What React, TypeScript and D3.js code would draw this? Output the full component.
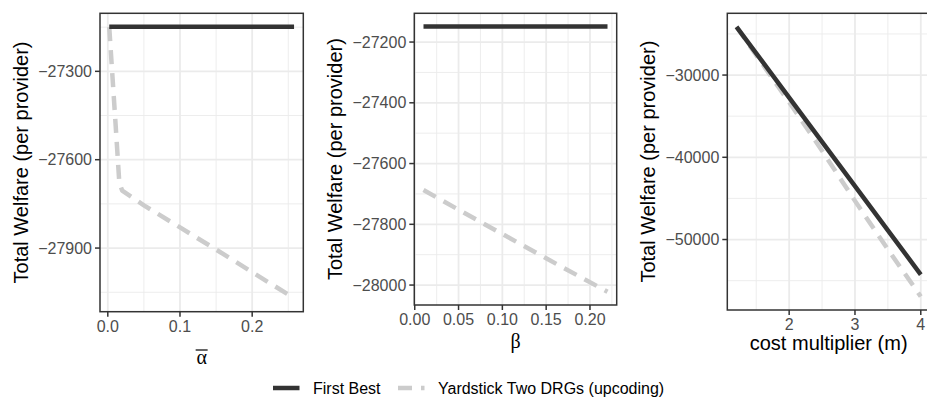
import * as d3 from 'd3'

// panel 1: alpha bar
const alphaBar = [0.002, 0.006, 0.01, 0.016, 0.02, 0.05, 0.1, 0.15, 0.2, 0.258]
const firstBestAlpha = [-27149, -27149, -27149, -27149, -27149, -27149, -27149, -27149, -27149, -27149]
const yardstickAlpha = [-27150, -27300, -27450, -27680, -27705, -27755, -27830, -27905, -27982, -28070]

// panel 2: beta
const beta = [0.01, 0.05, 0.1, 0.15, 0.22]
const firstBestBeta = [-27149, -27149, -27149, -27149, -27149]
const yardstickBeta = [-27687, -27752, -27832, -27912, -28022]

// panel 3: cost multiplier
const costMult = [1.2, 1.5, 2, 2.5, 3, 3.5, 4]
const firstBestCost = [-24130, -27360, -32740, -38120, -43500, -48880, -54260]
const yardstickCost = [-24130, -27600, -33300, -39200, -45300, -51200, -56930]

const alphaTicks = [0, 0.1, 0.2]
const alphaMinor = [0.05, 0.15, 0.25]
const alphaYTicks = [-27300, -27600, -27900]
const alphaYMinor = [-27150, -27450, -27750, -28050]

const betaTicks = [0, 0.05, 0.1, 0.15, 0.2]
const betaMinor = [0.025, 0.075, 0.125, 0.175, 0.225]
const betaYTicks = [-27200, -27400, -27600, -27800, -28000]
const betaYMinor = [-27300, -27500, -27700, -27900]

const costTicks = [2, 3, 4]
const costMinor = [1.5, 2.5, 3.5]
const costYTicks = [-30000, -40000, -50000]
const costYMinor = [-25000, -35000, -45000, -55000]

const seriesNames = ['First Best', 'Yardstick Two DRGs (upcoding)']

const FONT = 'Liberation Sans, Arial, Helvetica, sans-serif'
const SERIF = 'Liberation Serif, DejaVu Serif, Times New Roman, serif'
const DARK = '#333333'
const LIGHT = '#cccccc'
const GRID = '#ebebeb'
const DASH = '14,9'

function expand(vals: number[]): [number, number] {
  const [lo, hi] = d3.extent(vals) as [number, number]
  const pad = (hi - lo) * 0.05
  return [lo - pad, hi + pad]
}

interface PanelProps {
  xs: number[]
  fb: number[]
  ys: number[]
  box: { left: number; right: number; top: number; bottom: number }
  xTicks: number[]
  xMinor: number[]
  yTicks: number[]
  yMinor: number[]
  xFmt: (n: number) => string
  xTitle: React.ReactNode
}

function Panel({ xs, fb, ys, box, xTicks, xMinor, yTicks, yMinor, xFmt, xTitle }: PanelProps) {
  const x = d3.scaleLinear().domain(expand(xs)).range([box.left, box.right])
  const y = d3.scaleLinear().domain(expand([...fb, ...ys])).range([box.bottom, box.top])
  const line = d3.line<[number, number]>().x(d => x(d[0])).y(d => y(d[1]))
  const yFmt = d3.format('d')
  const inX = (v: number) => x(v) >= box.left && x(v) <= box.right
  const inY = (v: number) => y(v) >= box.top && y(v) <= box.bottom
  const midY = (box.top + box.bottom) / 2

  return (
    <g>
      <rect x={box.left} y={box.top} width={box.right - box.left} height={box.bottom - box.top} fill="white" />
      {/* grid */}
      {xMinor.filter(inX).map(v => (
        <line key={'xm' + v} x1={x(v)} x2={x(v)} y1={box.top} y2={box.bottom} stroke={GRID} strokeWidth={0.9} />
      ))}
      {yMinor.filter(inY).map(v => (
        <line key={'ym' + v} x1={box.left} x2={box.right} y1={y(v)} y2={y(v)} stroke={GRID} strokeWidth={0.9} />
      ))}
      {xTicks.map(v => (
        <line key={'xg' + v} x1={x(v)} x2={x(v)} y1={box.top} y2={box.bottom} stroke={GRID} strokeWidth={1.8} />
      ))}
      {yTicks.map(v => (
        <line key={'yg' + v} x1={box.left} x2={box.right} y1={y(v)} y2={y(v)} stroke={GRID} strokeWidth={1.8} />
      ))}
      {/* lines */}
      <path d={line(xs.map((v, i) => [v, ys[i]] as [number, number])) || ''} fill="none" stroke={LIGHT}
        strokeWidth={4.5} strokeDasharray={DASH} strokeLinejoin="round" />
      <path d={line(xs.map((v, i) => [v, fb[i]] as [number, number])) || ''} fill="none" stroke={DARK}
        strokeWidth={4.5} strokeLinejoin="round" />
      <rect x={box.left} y={box.top} width={box.right - box.left} height={box.bottom - box.top}
        fill="none" stroke={DARK} strokeWidth={1.5} />
      {/* y axis */}
      {yTicks.map(v => (
        <g key={'yt' + v}>
          <line x1={box.left - 5} x2={box.left} y1={y(v)} y2={y(v)} stroke={DARK} strokeWidth={1.5} />
          <text x={box.left - 8} y={y(v)} dy="0.35em" textAnchor="end" fontSize={16} fill="#4d4d4d">{yFmt(v)}</text>
        </g>
      ))}
      {/* x axis */}
      {xTicks.map(v => (
        <g key={'xt' + v}>
          <line x1={x(v)} x2={x(v)} y1={box.bottom} y2={box.bottom + 5} stroke={DARK} strokeWidth={1.5} />
          <text x={x(v)} y={box.bottom + 20} textAnchor="middle" fontSize={16} fill="#4d4d4d">{xFmt(v)}</text>
        </g>
      ))}
      <text transform={`translate(${box.left - 72},${midY}) rotate(-90)`} textAnchor="middle" fontSize={20} fill="black">
        Total Welfare (per provider)
      </text>
      {xTitle}
    </g>
  )
}

export default function App() {
  const p1 = { left: 100, right: 303.3, top: 13.3, bottom: 311.7 }
  const p2 = { left: 414.3, right: 616.7, top: 13.3, bottom: 305 }
  const p3 = { left: 727.3, right: 930, top: 13.3, bottom: 310 }
  const c1 = (p1.left + p1.right) / 2

  return (
    <svg width={927} height={398} style={{ position: 'absolute', left: 0, top: 0, fontFamily: FONT, background: 'white' }}>
      <rect width={927} height={398} fill="white" />
      <Panel xs={alphaBar} fb={firstBestAlpha} ys={yardstickAlpha} box={p1}
        xTicks={alphaTicks} xMinor={alphaMinor} yTicks={alphaYTicks} yMinor={alphaYMinor}
        xFmt={d3.format('.1f')}
        xTitle={
          <g>
            <text x={c1} y={364} textAnchor="middle" fontSize={20} fontFamily={SERIF}>α</text>
            <line x1={c1 - 6} x2={c1 + 6} y1={350} y2={350} stroke="black" strokeWidth={1.2} />
          </g>
        } />
      <Panel xs={beta} fb={firstBestBeta} ys={yardstickBeta} box={p2}
        xTicks={betaTicks} xMinor={betaMinor} yTicks={betaYTicks} yMinor={betaYMinor}
        xFmt={d3.format('.2f')}
        xTitle={<text x={(p2.left + p2.right) / 2} y={348} textAnchor="middle" fontSize={20} fontFamily={SERIF}>β</text>} />
      <Panel xs={costMult} fb={firstBestCost} ys={yardstickCost} box={p3}
        xTicks={costTicks} xMinor={costMinor} yTicks={costYTicks} yMinor={costYMinor}
        xFmt={d3.format('d')}
        xTitle={<text x={(p3.left + p3.right) / 2} y={350} textAnchor="middle" fontSize={20}>cost multiplier (m)</text>} />
      {/* legend */}
      <g>
        <line x1={273} x2={299.5} y1={388} y2={388} stroke={DARK} strokeWidth={4.5} />
        <text x={313} y={394} fontSize={16}>{seriesNames[0]}</text>
        <line x1={398} x2={424.5} y1={388} y2={388} stroke={LIGHT} strokeWidth={4.5} strokeDasharray={DASH} />
        <text x={438} y={394} fontSize={16}>{seriesNames[1]}</text>
      </g>
    </svg>
  )
}
